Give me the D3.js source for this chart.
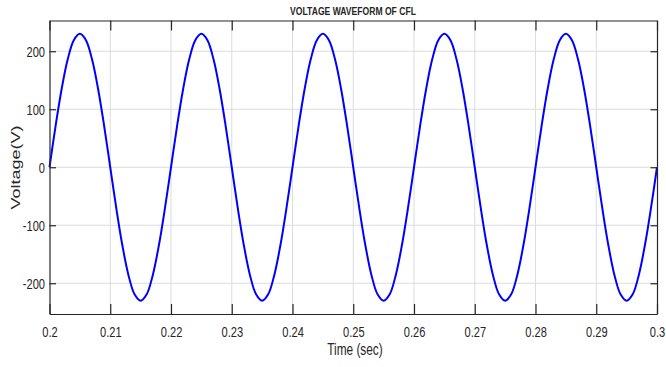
<!DOCTYPE html>
<html>
<head>
<meta charset="utf-8">
<script src="https://cdn.jsdelivr.net/npm/d3@7"></script>
<style>
  body { margin: 0; background: #fff; }
  svg { display: block; }
  text { font-family: "Liberation Sans", Arial, sans-serif; fill: #262626; }
</style>
</head>
<body>
<div id="chart"></div>
<script>
// samples, one every 1 ms from t = 0.2 s
const startTime = 0.2;
const sampleStep = 0.001;
const voltage = [
    0, 71, 135, 186, 219, 230, 219, 186, 135, 71,
    0, -71, -135, -186, -219, -230, -219, -186, -135, -71,
    0, 71, 135, 186, 219, 230, 219, 186, 135, 71,
    0, -71, -135, -186, -219, -230, -219, -186, -135, -71,
    0, 71, 135, 186, 219, 230, 219, 186, 135, 71,
    0, -71, -135, -186, -219, -230, -219, -186, -135, -71,
    0, 71, 135, 186, 219, 230, 219, 186, 135, 71,
    0, -71, -135, -186, -219, -230, -219, -186, -135, -71,
    0, 71, 135, 186, 219, 230, 219, 186, 135, 71,
    0, -71, -135, -186, -219, -230, -219, -186, -135, -71,
    0
];
const xTicks = [0.2, 0.21, 0.22, 0.23, 0.24, 0.25, 0.26, 0.27, 0.28, 0.29, 0.3];
const xTickLabels = ["0.2", "0.21", "0.22", "0.23", "0.24", "0.25", "0.26", "0.27", "0.28", "0.29", "0.3"];
const yTicks = [-200, -100, 0, 100, 200];
const yTickLabels = ["-200", "-100", "0", "100", "200"];

const width = 666, height = 367;
const plotLeft = 49.5, plotRight = 657, plotTop = 20.5, plotBottom = 314;
const squeeze = 0.74;

const svg = d3.select("#chart").append("svg")
    .attr("width", width)
    .attr("height", height);

const x = d3.scaleLinear().domain([0.2, 0.3]).range([plotLeft, plotRight]);
const y = d3.scaleLinear().domain([-253, 253]).range([plotBottom, plotTop]);

// grid
const grid = svg.append("g").attr("stroke", "#dcdcdc").attr("stroke-width", 1);
grid.selectAll(".gx").data(xTicks.slice(1, -1)).enter().append("line")
    .attr("x1", d => x(d)).attr("x2", d => x(d))
    .attr("y1", plotTop).attr("y2", plotBottom);
grid.selectAll(".gy").data(yTicks).enter().append("line")
    .attr("x1", plotLeft).attr("x2", plotRight)
    .attr("y1", d => y(d)).attr("y2", d => y(d));

// waveform
const line = d3.line()
    .x((d, i) => x(startTime + i * sampleStep))
    .y(d => y(d))
    .curve(d3.curveCatmullRom);

svg.append("path")
    .datum(voltage)
    .attr("fill", "none")
    .attr("stroke", "#0000ff")
    .attr("stroke-width", 2)
    .attr("d", line);

// axes (box with inward ticks)
const xb = svg.append("g").attr("transform", `translate(0,${plotBottom})`)
    .call(d3.axisBottom(x).tickValues(xTicks).tickSize(-10).tickSizeOuter(0)
        .tickPadding(12.5).tickFormat((d, i) => xTickLabels[i]));
xb.selectAll("text").attr("transform", `scale(${squeeze},1)`);

svg.append("g").attr("transform", `translate(0,${plotTop})`)
    .call(d3.axisTop(x).tickValues(xTicks).tickSize(-10).tickSizeOuter(0).tickFormat(""));

const yl = svg.append("g").attr("transform", `translate(${plotLeft},0)`)
    .call(d3.axisLeft(y).tickValues(yTicks).tickSize(-6.5).tickSizeOuter(0)
        .tickFormat((d, i) => yTickLabels[i]));
yl.selectAll("text").attr("x", 0).attr("dy", "0.36em")
    .attr("transform", `translate(-4.5,0) scale(${squeeze},1)`);

svg.append("g").attr("transform", `translate(${plotRight},0)`)
    .call(d3.axisRight(y).tickValues(yTicks).tickSize(-6.5).tickSizeOuter(0).tickFormat(""));

svg.selectAll(".domain, .tick line").attr("stroke", "#262626").attr("stroke-width", 1.2);
svg.selectAll(".tick text").style("font-size", "15px").attr("fill", "#262626");

// labels
svg.append("text")
    .attr("transform", `translate(353,15) scale(0.78,1)`)
    .attr("text-anchor", "middle")
    .style("font-size", "11px").style("font-weight", "bold").attr("fill", "#000")
    .text("VOLTAGE WAVEFORM OF CFL");

svg.append("text")
    .attr("transform", `translate(355,355) scale(${squeeze},1)`)
    .attr("text-anchor", "middle")
    .style("font-size", "16px")
    .text("Time (sec)");

svg.append("text")
    .attr("transform", `translate(19.5,167.5) rotate(-90) scale(1,${squeeze})`)
    .attr("text-anchor", "middle")
    .style("font-size", "18px")
    .text("Voltage(V)");
</script>
</body>
</html>
